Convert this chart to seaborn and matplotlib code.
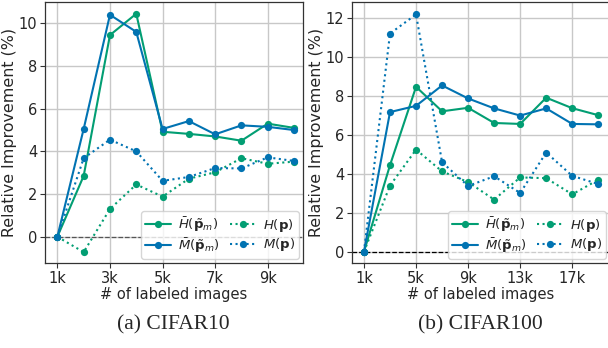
import matplotlib
matplotlib.use("Agg")
import matplotlib.pyplot as plt
import seaborn as sns
import pandas as pd

# CIFAR10
c10_x = [1, 2, 3, 4, 5, 6, 7, 8, 9, 10]
c10_hbar = [0, 2.85, 9.45, 10.45, 4.92, 4.82, 4.70, 4.50, 5.30, 5.10]
c10_mbar = [0, 5.05, 10.40, 9.60, 5.05, 5.42, 4.80, 5.22, 5.15, 5.00]
c10_h = [0, -0.72, 1.30, 2.45, 1.88, 2.72, 3.02, 3.68, 3.42, 3.52]
c10_m = [0, 3.68, 4.55, 4.00, 2.62, 2.80, 3.22, 3.20, 3.72, 3.55]
c10_ticks = [1, 3, 5, 7, 9]
c10_ticklabels = ["1k", "3k", "5k", "7k", "9k"]

# CIFAR100
c100_x = [1, 3, 5, 7, 9, 11, 13, 15, 17, 19]
c100_hbar = [0, 4.45, 8.48, 7.22, 7.40, 6.62, 6.57, 7.92, 7.38, 7.02]
c100_mbar = [0, 7.18, 7.50, 8.55, 7.88, 7.37, 7.00, 7.37, 6.57, 6.55]
c100_h = [0, 3.40, 5.25, 4.13, 3.58, 2.68, 3.82, 3.78, 2.95, 3.70]
c100_m = [0, 11.22, 12.20, 4.60, 3.38, 3.88, 3.02, 5.10, 3.90, 3.48]
c100_ticks = [1, 5, 9, 13, 17]
c100_ticklabels = ["1k", "5k", "9k", "13k", "17k"]

labels = [r'$\bar{H}(\tilde{\mathbf{p}}_m)$', r'$\bar{M}(\tilde{\mathbf{p}}_m)$',
          r'$H(\mathbf{p})$', r'$M(\mathbf{p})$']
captions = ["(a) CIFAR10", "(b) CIFAR100"]

sns.set_style("whitegrid")
plt.rcParams['font.family'] = ['DejaVu Sans']
plt.rcParams['mathtext.fontset'] = 'dejavusans'

green = "#029E73"
blue = "#0173B2"
colors = [green, blue, green, blue]
styles = ['-', '-', ':', ':']

W, H = 608, 348
fig = plt.figure(figsize=(W / 100, H / 100), dpi=100)
ax1 = fig.add_axes([45 / W, (H - 263) / H, 258 / W, 261 / H])
ax2 = fig.add_axes([352 / W, (H - 263) / H, 258 / W, 261 / H])

panels = [
    (ax1, c10_x, [c10_hbar, c10_mbar, c10_h, c10_m], c10_ticks, c10_ticklabels,
     (0.53, 10.34), (-1.23, 11.0), [0, 2, 4, 6, 8, 10], '#555555'),
    (ax2, c100_x, [c100_hbar, c100_mbar, c100_h, c100_m], c100_ticks, c100_ticklabels,
     (0.08, 19.9), (-0.58, 12.84), [0, 2, 4, 6, 8, 10, 12], 'black'),
]

for ax, xs, series, ticks, ticklabels, xlim, ylim, yticks, zc in panels:
    for ys, lab, col, ls in zip(series, labels, colors, styles):
        df = pd.DataFrame({"x": xs, "y": ys})
        sns.lineplot(data=df, x="x", y="y", ax=ax, color=col, linestyle=ls,
                     marker='o', markersize=5.2, markeredgewidth=0, linewidth=1.5,
                     label=lab)
    ax.axhline(0, color=zc, linestyle='--', linewidth=0.9, zorder=1)
    ax.set_xlim(*xlim)
    ax.set_ylim(*ylim)
    ax.set_xticks(ticks)
    ax.set_xticklabels(ticklabels)
    ax.set_yticks(yticks)
    ax.tick_params(labelsize=10.5, length=3.5, width=0.8, color='#333333',
                   bottom=True, left=True, pad=2)
    ax.set_xlabel("# of labeled images", fontsize=10.5, labelpad=1)
    ax.set_ylabel("Relative Improvement (%)", fontsize=11.4, labelpad=1)
    ax.grid(True, color='#c8c8c8', linewidth=1.0)
    for sp in ax.spines.values():
        sp.set_color('#333333')
        sp.set_linewidth(0.9)
    ax.legend(loc='lower right', ncol=2, fontsize=9.5, frameon=True,
              handlelength=2.0, columnspacing=0.8, handletextpad=0.5,
              labelspacing=0.2, borderpad=0.3, borderaxespad=0.3,
              alignment='right')

fig.text((45 + 128) / W, 1 - 325 / H, captions[0], ha='center', va='center',
         fontsize=15.5, family='Liberation Serif')
fig.text((352 + 128) / W, 1 - 325 / H, captions[1], ha='center', va='center',
         fontsize=15.5, family='Liberation Serif')

fig.savefig("out.png", dpi=100)
